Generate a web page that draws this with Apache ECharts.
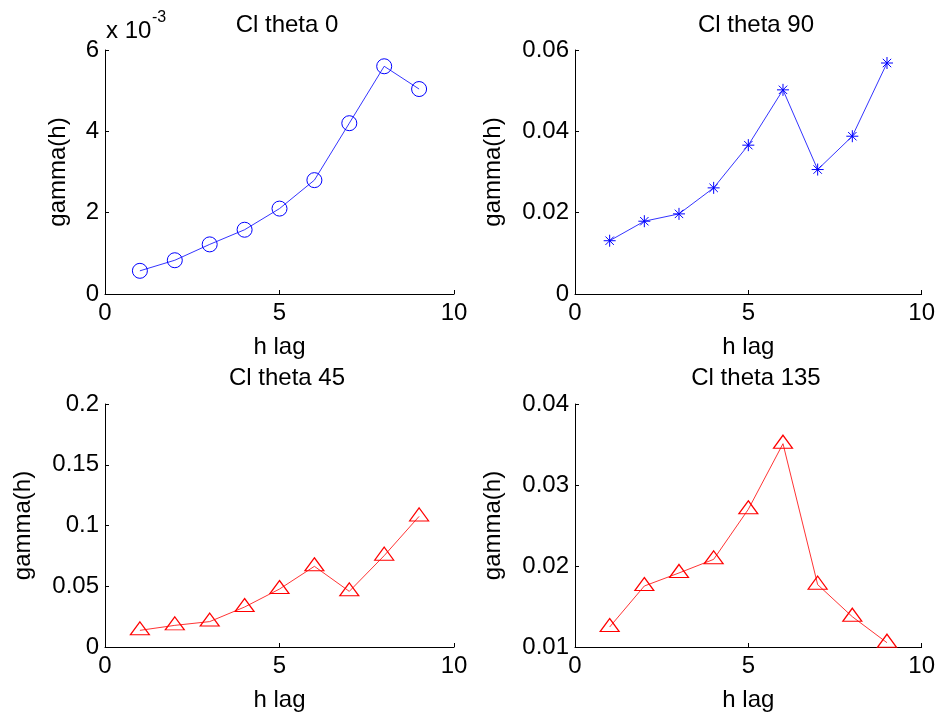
<!DOCTYPE html>
<html>
<head>
<meta charset="utf-8">
<script src="https://cdn.jsdelivr.net/npm/echarts@6/dist/echarts.min.js"></script>
<style>
html,body{margin:0;padding:0;background:#fff;}
#chart{width:938px;height:715px;}
</style>
</head>
<body>
<div id="chart"></div>
<script>
// ---- data ----
var lags = [1, 2, 3, 4, 5, 6, 7, 8, 9];
var theta0 = [0.00057, 0.00083, 0.00122, 0.00158, 0.0021, 0.0028, 0.0042, 0.0056, 0.00504];
var theta90 = [0.0131, 0.0179, 0.0197, 0.0261, 0.0366, 0.0502, 0.0306, 0.0388, 0.0568];
var theta45 = [0.0137, 0.0178, 0.0209, 0.0329, 0.0477, 0.0664, 0.0458, 0.0752, 0.1075];
var theta135 = [0.01247, 0.01753, 0.01914, 0.02082, 0.027, 0.0351, 0.0177, 0.01374, 0.01053];
var titles = ['Cl theta 0', 'Cl theta 90', 'Cl theta 45', 'Cl theta 135'];
var xName = 'h lag';
var yName = 'gamma(h)';

function pairs(ys) { return lags.map(function (x, i) { return [x, ys[i]]; }); }

var FONT = 'Liberation Sans, Arial, Helvetica, sans-serif';
var FS = 24;
var grids = [
  {left: 105, top: 50, width: 349, height: 244},
  {left: 575, top: 50, width: 348, height: 244},
  {left: 105, top: 404, width: 349, height: 243},
  {left: 575, top: 404, width: 348, height: 243}
];
var yCfg = [
  {min: 0, max: 0.006, interval: 0.002, fmt: function (v) { return String(Math.round(v * 1000)); }, gap: 35},
  {min: 0, max: 0.06, interval: 0.02, fmt: function (v) { return String(+v.toFixed(2)); }, gap: 70},
  {min: 0, max: 0.2, interval: 0.05, fmt: function (v) { return String(+v.toFixed(2)); }, gap: 70},
  {min: 0.01, max: 0.04, interval: 0.01, fmt: function (v) { return String(+v.toFixed(2)); }, gap: 70}
];
var axisLine = {show: true, onZero: false, lineStyle: {color: '#000', width: 1}};
var axisTick = {show: true, inside: true, length: 4, lineStyle: {color: '#000'}};

var xAxes = grids.map(function (g, i) {
  return {
    type: 'value', gridIndex: i, min: 0, max: 10, interval: 5,
    name: xName, nameLocation: 'middle', nameGap: 41,
    nameTextStyle: {fontFamily: FONT, fontSize: FS, color: '#000'},
    axisLine: axisLine, axisTick: axisTick, splitLine: {show: false},
    axisLabel: {fontFamily: FONT, fontSize: FS, color: '#000', margin: 7}
  };
});
var yAxes = grids.map(function (g, i) {
  var c = yCfg[i];
  return {
    type: 'value', gridIndex: i, min: c.min, max: c.max, interval: c.interval,
    name: yName, nameLocation: 'middle', nameGap: c.gap,
    nameTextStyle: {fontFamily: FONT, fontSize: FS, color: '#000'},
    axisLine: axisLine, axisTick: axisTick, splitLine: {show: false},
    axisLabel: {fontFamily: FONT, fontSize: FS, color: '#000', margin: 6, formatter: c.fmt}
  };
});

var star = 'path://M0,5L10,5M5,0L5,10M1.5,1.5L8.5,8.5M1.5,8.5L8.5,1.5';
var blue = '#0000ff', red = '#ff0000';
var series = [
  {type: 'line', xAxisIndex: 0, yAxisIndex: 0, data: pairs(theta0),
   symbol: 'circle', symbolSize: 15,
   lineStyle: {color: blue, width: 0.8}, itemStyle: {color: 'rgba(0,0,0,0)', borderColor: blue, borderWidth: 1}},
  {type: 'line', xAxisIndex: 1, yAxisIndex: 1, data: pairs(theta90),
   symbol: star, symbolSize: 12,
   lineStyle: {color: blue, width: 0.8}, itemStyle: {color: blue, borderColor: blue, borderWidth: 1}},
  {type: 'line', xAxisIndex: 2, yAxisIndex: 2, data: pairs(theta45),
   symbol: 'triangle', symbolSize: [19, 13], symbolOffset: [0, -2],
   lineStyle: {color: red, width: 0.8}, itemStyle: {color: 'rgba(0,0,0,0)', borderColor: red, borderWidth: 1.2}},
  {type: 'line', xAxisIndex: 3, yAxisIndex: 3, data: pairs(theta135),
   symbol: 'triangle', symbolSize: [19, 13], symbolOffset: [0, -2],
   lineStyle: {color: red, width: 0.8}, itemStyle: {color: 'rgba(0,0,0,0)', borderColor: red, borderWidth: 1.2}}
];
series.forEach(function (s) { s.animation = false; s.showAllSymbol = true; s.silent = true; });

var titlePos = [[287, 25], [756, 25], [287, 378], [756, 378]];
var graphics = titles.map(function (t, i) {
  return {type: 'text', x: titlePos[i][0], y: titlePos[i][1],
    style: {text: t, fontFamily: FONT, fontSize: FS, fill: '#000', align: 'center', verticalAlign: 'middle'}};
});
graphics.push({type: 'text', x: 106, y: 31,
  style: {text: 'x 10', fontFamily: FONT, fontSize: FS, fill: '#000', align: 'left', verticalAlign: 'middle'}});
graphics.push({type: 'text', x: 152, y: 18,
  style: {text: '-3', fontFamily: FONT, fontSize: 16, fill: '#000', align: 'left', verticalAlign: 'middle'}});

var chart = echarts.init(document.getElementById('chart'), null, {renderer: 'canvas'});
chart.setOption({
  animation: false,
  backgroundColor: '#fff',
  grid: grids,
  xAxis: xAxes,
  yAxis: yAxes,
  series: series,
  graphic: graphics
});
</script>
</body>
</html>
